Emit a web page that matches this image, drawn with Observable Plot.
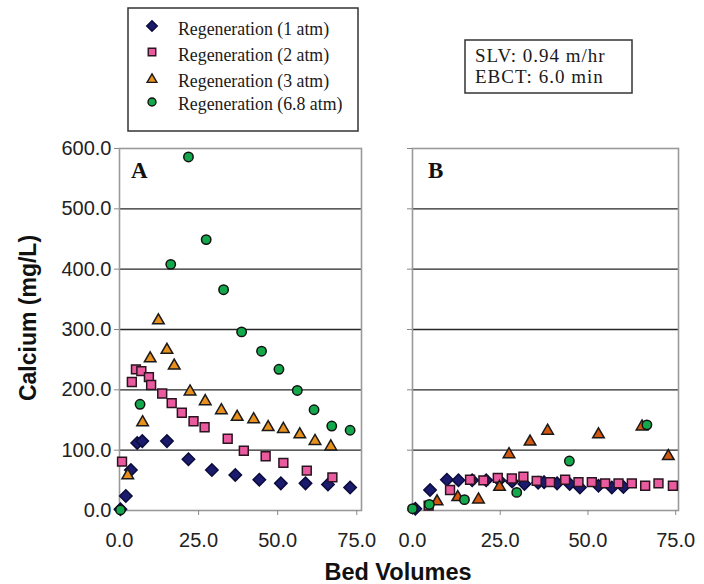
<!DOCTYPE html>
<html>
<head>
<meta charset="utf-8">
<script src="https://cdn.jsdelivr.net/npm/d3@7"></script>
<script src="https://cdn.jsdelivr.net/npm/@observablehq/plot@0.6"></script>
<style>
  body { margin: 0; background: white; }
  #root { position: relative; width: 704px; height: 584px; background: white; overflow: hidden; }
  #root svg { position: absolute; top: 0; }
</style>
</head>
<body>
<div id="root"></div>
<script>
// ---- data (Bed Volumes, Calcium mg/L) ----
const seriesNames = ["Regeneration (1 atm)", "Regeneration (2 atm)", "Regeneration (3 atm)", "Regeneration (6.8 atm)"];
const xTicks = [0, 25, 50, 75];
const yTicks = [0, 100, 200, 300, 400, 500, 600];
const gridValues = [100, 200, 300, 400, 500];
const infoLines = ["SLV: 0.94 m/hr", "EBCT: 6.0 min"];
const axisTitles = ["Calcium (mg/L)", "Bed Volumes"];
const panelLabels = ["A", "B"];

const A_1atm = [[0.3,2],[2.0,24],[3.6,67],[5.6,112],[7.2,115],[15.0,115],[21.8,85],[29.2,67],[36.6,59],[44.2,51],[51.0,45],[58.8,45],[65.9,43],[72.9,38]];
const A_2atm = [[0.8,81],[3.9,213],[5.2,234],[6.9,231],[9.3,221],[10.0,208],[13.5,194],[16.5,178],[19.7,162],[23.4,148],[26.9,138],[34.2,119],[39.3,99],[46.2,90],[51.8,79],[59.2,66],[67.3,55]];
const A_3atm = [[2.6,58],[7.3,146],[9.7,252],[12.3,315],[15.0,266],[17.3,240],[22.3,197],[27.1,181],[32.2,166],[37.2,155],[42.4,151],[47.0,138],[51.8,135],[57.0,126],[61.8,115],[66.8,106]];
const A_68atm = [[0.3,1],[6.5,176],[16.2,408],[21.8,586],[27.4,449],[32.9,366],[38.6,296],[44.9,264],[50.4,234],[56.2,199],[61.5,167],[67.1,140],[72.9,133]];

const B_1atm = [[0.8,3],[5.0,34],[9.8,51],[13.1,50],[17.0,50],[21.0,50],[24.7,50],[28.4,48],[31.9,44],[35.8,46],[37.5,47],[41.2,45],[44.8,44],[47.7,38],[53.0,41],[56.8,38],[60.1,39]];
const B_2atm = [[4.6,8],[10.7,34],[16.4,51],[20.2,50],[24.3,54],[28.3,53],[31.6,56],[35.4,49],[39.2,47],[43.5,51],[47.3,47],[51.1,47],[54.9,45],[58.7,45],[62.5,45],[66.3,41],[70.1,45],[74.2,41]];
const B_3atm = [[7.0,15],[12.9,22],[18.8,18],[24.8,39],[27.5,93],[33.5,114],[38.5,132],[53.0,126],[65.4,139],[72.9,90]];
const B_68atm = [[0,3],[4.8,10],[14.8,18],[29.7,30],[44.7,82],[66.8,142]];

// ---- styles ----
const symbols = ["diamond2", "square", "triangle", "circle"];
const sizes = [5.6, 5, 4.3, 4.7];
const fillsA = ["#1b1b6e", "#ea5a9e", "#e8901e", "#14a84c"];
const fillsB = ["#1b1b6e", "#ea5a9e", "#d2580f", "#14a84c"];
const strokes = ["#0b0b3c", "#2a1420", "#1a1a1a", "#111111"];

const root = document.getElementById("root");
const fmt = d3.format(".1f");

function panel({series, fills, left, width, marginLeft, marginRight, xMax, showYLabels}) {
  const marks = [
    Plot.ruleY(gridValues, {stroke: "#262626", strokeWidth: 1.3}),
    Plot.frame({stroke: "#9a9a9a", strokeWidth: 1.6}),
    Plot.axisX({ticks: xTicks, tickSize: 5, tickPadding: 17, tickFormat: fmt, label: null,
                stroke: "#888", fill: "#222", fontSize: 20}),
    Plot.axisY({ticks: yTicks, tickSize: 5, tickPadding: 3, label: null,
                tickFormat: showYLabels ? fmt : () => "",
                stroke: "#888", fill: "#222", fontSize: 20})
  ];
  series.forEach((data, i) => {
    marks.push(Plot.dot(data, {
      x: d => d[0], y: d => d[1], symbol: symbols[i], r: sizes[i],
      fill: fills[i], stroke: strokes[i], strokeWidth: 1.5, fillOpacity: 1
    }));
  });
  const svg = Plot.plot({
    width, height: 584,
    marginLeft, marginRight, marginTop: 148, marginBottom: 74,
    x: {domain: [0, xMax]},
    y: {domain: [0, 600]},
    style: {fontFamily: "'Liberation Sans', Arial, sans-serif", fontSize: "20px", background: "transparent", overflow: "visible"},
    marks
  });
  svg.style.left = left + "px";
  root.appendChild(svg);
}

panel({series: [A_1atm, A_2atm, A_3atm, A_68atm], fills: fillsA, left: 0, width: 372,
       marginLeft: 119, marginRight: 11, xMax: 76.5, showYLabels: true});
panel({series: [B_1atm, B_2atm, B_3atm, B_68atm], fills: fillsB, left: 372, width: 332,
       marginLeft: 40, marginRight: 26, xMax: 75.8, showYLabels: false});

// ---- overlay: titles, legend, info box ----
const ov = d3.select(root).append("svg")
  .attr("width", 704).attr("height", 584)
  .style("left", "0px").style("pointer-events", "none");

ov.append("text")
  .attr("transform", "translate(36,318) rotate(-90)")
  .attr("text-anchor", "middle")
  .style("font", "bold 23px 'Liberation Sans', Arial, sans-serif")
  .attr("fill", "#111")
  .text(axisTitles[0]);
ov.append("text")
  .attr("x", 398).attr("y", 580)
  .attr("text-anchor", "middle")
  .style("font", "bold 23.5px 'Liberation Sans', Arial, sans-serif")
  .attr("fill", "#111")
  .text(axisTitles[1]);

[[131, 178], [428, 178]].forEach(([x, y], i) => {
  ov.append("text").attr("x", x).attr("y", y)
    .style("font", "bold 23px 'Liberation Serif', 'Times New Roman', serif")
    .attr("fill", "#111").text(panelLabels[i]);
});

// legend box
ov.append("rect").attr("x", 128).attr("y", 8).attr("width", 230).attr("height", 123)
  .attr("fill", "white").attr("stroke", "#333").attr("stroke-width", 1.5);
const legBase = [35, 61, 86.5, 109.5];
const legMarkY = [26, 52, 79.5, 102];
const d3sym = {diamond2: d3.symbolDiamond2, square: d3.symbolSquare, triangle: d3.symbolTriangle, circle: d3.symbolCircle};
seriesNames.forEach((name, i) => {
  const s = sizes[i] * 0.85;
  ov.append("path")
    .attr("transform", `translate(152,${legMarkY[i]})`)
    .attr("d", d3.symbol(d3sym[symbols[i]], Math.PI * s * s)())
    .attr("fill", fillsA[i]).attr("stroke", strokes[i]).attr("stroke-width", 1.4);
  ov.append("text").attr("x", 178).attr("y", legBase[i])
    .style("font", "17.8px 'Liberation Serif', 'Times New Roman', serif")
    .attr("fill", "#1a1a1a").text(name);
});

// info box
ov.append("rect").attr("x", 465).attr("y", 40).attr("width", 167).attr("height", 53)
  .attr("fill", "white").attr("stroke", "#333").attr("stroke-width", 1.5);
infoLines.forEach((t, i) => {
  ov.append("text").attr("x", 475).attr("y", 62 + i * 21)
    .style("font", "19px 'Liberation Serif', 'Times New Roman', serif")
    .style("letter-spacing", "1px")
    .attr("fill", "#1a1a1a").text(t);
});
</script>
</body>
</html>
